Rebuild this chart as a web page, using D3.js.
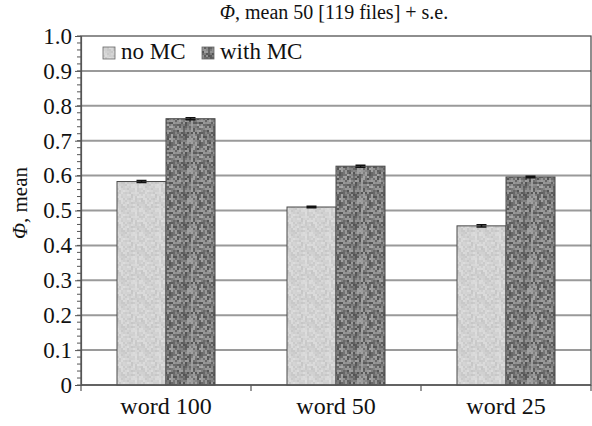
<!DOCTYPE html>
<html>
<head>
<meta charset="utf-8">
<script src="https://cdn.jsdelivr.net/npm/d3@7"></script>
</head>
<body style="margin:0">
<svg id="chart" width="592" height="426" style="font-family: 'Liberation Serif', serif"></svg>
<script>
// data
var categories = ["word 100", "word 50", "word 25"];
var seriesNames = ["no MC", "with MC"];
var noMC = [0.583, 0.510, 0.456];
var withMC = [0.763, 0.627, 0.596];
var errNoMC = [0.003, 0.002, 0.003];
var errWithMC = [0.003, 0.003, 0.002];
var yTicks = [0, 0.1, 0.2, 0.3, 0.4, 0.5, 0.6, 0.7, 0.8, 0.9, 1.0];

var svg = d3.select("#chart"),
    margin = {top: 36, right: 1, bottom: 41, left: 81},
    width = +svg.attr("width") - margin.left - margin.right,
    height = +svg.attr("height") - margin.top - margin.bottom;

// grainy textures for the bars (fixed hash, not data)
function hash(i, j, s) {
  var h = Math.sin(i * 127.1 + j * 311.7 + s * 74.7) * 43758.5453;
  return h - Math.floor(h);
}
var defs = svg.append("defs");
function texture(id, base, spread, cell, size, seed) {
  var p = defs.append("pattern").attr("id", id).attr("patternUnits", "userSpaceOnUse")
    .attr("width", size).attr("height", size);
  p.append("rect").attr("width", size).attr("height", size).attr("fill", d3.rgb(base, base, base));
  for (var i = 0; i < size / cell; i++) {
    for (var j = 0; j < size / cell; j++) {
      var v = Math.round(base + (hash(i, j, seed) - 0.5) * 2 * spread);
      p.append("rect").attr("x", i * cell).attr("y", j * cell).attr("width", cell).attr("height", cell)
        .attr("fill", d3.rgb(v, v, v));
    }
  }
}
texture("texLight", 210, 12, 2, 24, 1);
texture("texDark", 124, 42, 2, 30, 2);

var g = svg.append("g").attr("transform", "translate(" + margin.left + "," + margin.top + ")");

var x0 = d3.scaleBand().domain(categories).range([0, width]).paddingInner(0).paddingOuter(0);
var x1 = d3.scaleBand().domain(seriesNames).range([0, 98]);
var y = d3.scaleLinear().domain([0, 1]).range([height, 0]);

var fills = {"no MC": "url(#texLight)", "with MC": "url(#texDark)"};

// gridlines
g.append("g").selectAll("line")
  .data(yTicks.filter(function (d) { return d > 0 && d < 1; }))
  .enter().append("line")
  .attr("x1", 0).attr("x2", width)
  .attr("y1", function (d) { return y(d); }).attr("y2", function (d) { return y(d); })
  .attr("stroke", "#9a9a9a").attr("stroke-width", 2);

// plot frame
g.append("rect").attr("x", 0).attr("y", 0).attr("width", width).attr("height", height)
  .attr("fill", "none").attr("stroke", "#444").attr("stroke-width", 1.2);

var data = categories.map(function (c, i) {
  return {cat: c, vals: [
    {key: "no MC", value: noMC[i], err: errNoMC[i]},
    {key: "with MC", value: withMC[i], err: errWithMC[i]}
  ]};
});

var grp = g.append("g").selectAll("g")
  .data(data).enter().append("g")
  .attr("transform", function (d) { return "translate(" + (x0(d.cat) + x0.bandwidth() / 2 - 49) + ",0)"; });

var bars = grp.selectAll("g.bar")
  .data(function (d) { return d.vals; })
  .enter().append("g").attr("class", "bar");

bars.append("rect")
  .attr("x", function (d) { return x1(d.key); })
  .attr("y", function (d) { return y(d.value); })
  .attr("width", x1.bandwidth())
  .attr("height", function (d) { return height - y(d.value); })
  .attr("fill", function (d) { return fills[d.key]; })
  .attr("stroke", "#4a4a4a").attr("stroke-width", 1);

// error bars
bars.append("path")
  .attr("d", function (d) {
    var cx = x1(d.key) + x1.bandwidth() / 2, w = 5;
    var a = y(d.value + d.err), b = y(d.value - d.err);
    return "M" + (cx - w) + "," + a + "H" + (cx + w) + "M" + cx + "," + a + "V" + b + "M" + (cx - w) + "," + b + "H" + (cx + w);
  })
  .attr("stroke", "#111").attr("stroke-width", 1.5).attr("fill", "none");

// y axis with minor ticks
var minor = d3.range(0, 1.0001, 0.02);
g.append("g").selectAll("line")
  .data(minor).enter().append("line")
  .attr("x1", -4).attr("x2", 0)
  .attr("y1", function (d) { return y(d); }).attr("y2", function (d) { return y(d); })
  .attr("stroke", "#555").attr("stroke-width", 1);

var yAxis = g.append("g").attr("class", "Yaxis")
  .call(d3.axisLeft(y).tickValues(yTicks).tickSize(6).tickPadding(3)
    .tickFormat(function (d) { return d === 0 ? "0" : d3.format(".1f")(d); }));
yAxis.attr("font-family", null).attr("font-size", null);
yAxis.select(".domain").attr("stroke", "#555").attr("stroke-width", 1.2);
yAxis.selectAll(".tick line").attr("stroke", "#555");
yAxis.selectAll(".tick text").attr("font-size", 23).attr("fill", "#111");

// x axis
var xAxis = g.append("g").attr("class", "Xaxis")
  .attr("transform", "translate(0," + height + ")")
  .call(d3.axisBottom(x0).tickSize(0).tickPadding(12));
xAxis.attr("font-family", null).attr("font-size", null);
xAxis.select(".domain").remove();
xAxis.selectAll(".tick text").attr("font-size", 24).attr("fill", "#111");

g.append("g").selectAll("line")
  .data(d3.range(0, categories.length + 1))
  .enter().append("line")
  .attr("x1", function (i) { return i * x0.bandwidth(); }).attr("x2", function (i) { return i * x0.bandwidth(); })
  .attr("y1", height).attr("y2", height + 6)
  .attr("stroke", "#555").attr("stroke-width", 1.2);
g.append("line").attr("x1", 0).attr("x2", width).attr("y1", height).attr("y2", height)
  .attr("stroke", "#555").attr("stroke-width", 1.4);

// title
var title = svg.append("text")
  .attr("x", 334).attr("y", 19)
  .attr("text-anchor", "middle").attr("fill", "#111").attr("font-size", 20);
title.append("tspan").attr("font-style", "italic").text("\u03A6");
title.append("tspan").text(", mean 50 [119 files] + s.e.");

// y label
var ylab = svg.append("text")
  .attr("transform", "translate(27,203) rotate(-90)")
  .attr("text-anchor", "middle").attr("fill", "#111").attr("font-size", 21);
ylab.append("tspan").attr("font-style", "italic").text("\u03A6");
ylab.append("tspan").text(", mean");

// legend
var legend = g.append("g").attr("transform", "translate(22,11)");
var litem = legend.selectAll("g").data(seriesNames).enter().append("g")
  .attr("transform", function (d, i) { return "translate(" + (i * 99) + ",0)"; });
litem.append("rect").attr("x", 0).attr("y", 0).attr("width", 12).attr("height", 12)
  .attr("fill", function (d) { return fills[d]; })
  .attr("stroke", "#666").attr("stroke-width", 0.8);
litem.append("text").attr("x", 18).attr("y", 12).attr("fill", "#111").attr("font-size", 23)
  .text(function (d) { return d; });
</script>
</body>
</html>
